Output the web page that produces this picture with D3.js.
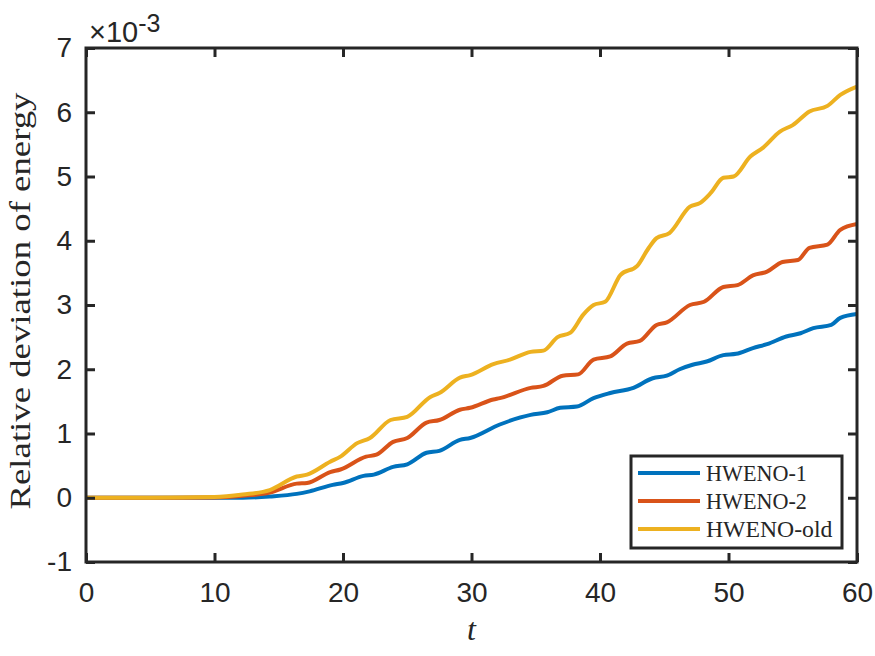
<!DOCTYPE html>
<meta charset="utf-8">
<style>
body { margin: 0; background: #fff; }
svg text { fill: #262626; }
.tick text { font-family: "Liberation Sans", Arial, sans-serif; font-size: 28px; }
.series { fill: none; stroke-width: 4px; stroke-linejoin: round; }
</style>
<body>
<script src="https://cdn.jsdelivr.net/npm/d3@7"></script>
<script>
// values, in units of 1e-3
var tH1 = [0,5,10,12.2,14.3,16.4,17.4,19.2,20,21.6,22.4,23.9,25,26.5,27.5,29.1,29.9,32.2,34.6,35.9,36.9,38.2,39.5,40.8,42.6,44.1,45.2,46.2,47.2,48.3,49.6,50.6,51.9,53,54.5,55.6,56.6,58,58.7,60];
var vH1 = [0,0,0,0,0.02,0.06,0.1,0.2,0.23,0.34,0.36,0.48,0.52,0.70,0.73,0.90,0.93,1.14,1.29,1.33,1.40,1.42,1.55,1.63,1.71,1.86,1.9,2.0,2.07,2.12,2.22,2.24,2.33,2.39,2.51,2.56,2.64,2.69,2.8,2.86];

var tH2 = [0,5,10,12.2,14.3,16.4,17.2,19,19.8,21.8,22.6,23.9,25,26.5,27.5,29.1,29.9,31.7,32.2,34.6,35.6,37.1,38.3,39.5,40.8,42.1,43.1,44.4,45.2,47,48.1,49.6,50.7,51.9,53,54.2,55.4,56.3,57.7,58.7,60];
var vH2 = [0,0,0.005,0.03,0.08,0.22,0.23,0.40,0.44,0.64,0.67,0.87,0.93,1.17,1.21,1.37,1.40,1.53,1.55,1.71,1.74,1.9,1.92,2.15,2.2,2.4,2.44,2.69,2.73,3.0,3.05,3.28,3.31,3.46,3.52,3.67,3.7,3.89,3.94,4.17,4.26];

var tOld = [0,5,10,12.2,14.3,16.4,17.2,19,19.8,21.1,22.1,23.7,25,26.8,27.5,29.1,29.9,31.7,33,34.6,35.6,36.7,37.7,38.7,39.5,40.4,41.6,42.9,43.7,44.4,45.4,47,47.8,48.6,49.6,50.4,51.7,52.7,54,55,56.3,57.7,58.7,60];
var vOld = [0,0,0.01,0.05,0.12,0.33,0.36,0.56,0.64,0.85,0.93,1.21,1.26,1.57,1.63,1.87,1.91,2.08,2.15,2.27,2.29,2.5,2.57,2.85,3.0,3.05,3.47,3.61,3.86,4.04,4.12,4.53,4.59,4.74,4.98,5.0,5.31,5.45,5.70,5.8,6.01,6.1,6.27,6.4];

var seriesNames = ["HWENO-1", "HWENO-2", "HWENO-old"];
var seriesColors = ["#0072BD", "#D95319", "#EDB120"];
var xTicks = [0,10,20,30,40,50,60];
var yTicks = [-1,0,1,2,3,4,5,6,7];

var W = 875, H = 656;
var pL = 86, pR = 857, pT = 48, pB = 562;

var svg = d3.select("body").append("svg").attr("width", W).attr("height", H);

var x = d3.scaleLinear().domain([0, 60]).range([pL, pR]);
var y = d3.scaleLinear().domain([-1, 7]).range([pB, pT]);

var series = [
  {name: seriesNames[0], color: seriesColors[0], t: tH1, v: vH1},
  {name: seriesNames[1], color: seriesColors[1], t: tH2, v: vH2},
  {name: seriesNames[2], color: seriesColors[2], t: tOld, v: vOld}
];

var line = d3.line()
  .x(function(d) { return x(d[0]); })
  .y(function(d) { return y(d[1]); })
  .curve(d3.curveMonotoneX);

svg.append("g").selectAll("path")
  .data(series)
  .enter().append("path")
  .attr("class", "series")
  .attr("stroke", function(d) { return d.color; })
  .attr("d", function(d) { return line(d.t.map(function(t, i) { return [t, d.v[i]]; })); });

// axes (ticks inward, on all four sides)
function styleAxis(g) {
  g.select(".domain").remove();
  g.selectAll(".tick line").attr("stroke", "#262626").attr("stroke-width", 3);
}
var plain = function(d) { return String(d); };
svg.append("g").attr("transform", "translate(0," + pB + ")")
  .call(d3.axisBottom(x).tickValues(xTicks).tickSize(-9).tickPadding(20).tickFormat(plain))
  .call(styleAxis);
svg.append("g").attr("transform", "translate(0," + pT + ")")
  .call(d3.axisTop(x).tickValues(xTicks).tickSize(-9).tickFormat(""))
  .call(styleAxis);
svg.append("g").attr("transform", "translate(" + pL + ",0)")
  .call(d3.axisLeft(y).tickValues(yTicks).tickSize(-9).tickPadding(14).tickFormat(plain))
  .call(styleAxis);
svg.append("g").attr("transform", "translate(" + pR + ",0)")
  .call(d3.axisRight(y).tickValues(yTicks).tickSize(-9).tickFormat(""))
  .call(styleAxis);

svg.append("rect")
  .attr("x", pL).attr("y", pT)
  .attr("width", pR - pL).attr("height", pB - pT)
  .attr("fill", "none").attr("stroke", "#262626").attr("stroke-width", 3);

// exponent
var ex = svg.append("text").attr("x", 89).attr("y", 42)
  .style("font-family", "Liberation Sans, Arial, sans-serif").style("font-size", "29px");
ex.append("tspan").text("\u00d710");
ex.append("tspan").attr("dy", -10).style("font-size", "25px").text("-3");

// axis labels
svg.append("text")
  .attr("transform", "translate(30," + ((pT + pB) / 2 - 4) + ") rotate(-90)")
  .attr("text-anchor", "middle")
  .attr("textLength", 417).attr("lengthAdjust", "spacingAndGlyphs")
  .style("font-family", "Liberation Serif, serif").style("font-size", "30px")
  .text("Relative deviation of energy");

svg.append("text")
  .attr("x", (pL + pR) / 2).attr("y", 640)
  .attr("text-anchor", "middle")
  .style("font-family", "Liberation Serif, serif").style("font-size", "32px").style("font-style", "italic")
  .text("t");

// legend
var lg = svg.append("g");
lg.append("rect")
  .attr("x", 631).attr("y", 456).attr("width", 211).attr("height", 92)
  .attr("fill", "#fff").attr("stroke", "#262626").attr("stroke-width", 3);
var item = lg.selectAll(".item").data(series).enter().append("g")
  .attr("transform", function(d, i) { return "translate(0," + (473 + i * 28) + ")"; });
item.append("line")
  .attr("x1", 638).attr("x2", 700)
  .attr("stroke", function(d) { return d.color; }).attr("stroke-width", 4);
item.append("text")
  .attr("x", 706).attr("dy", "0.33em")
  .attr("textLength", function(d) { return d.name.length * 12.7 + 12; })
  .attr("lengthAdjust", "spacingAndGlyphs")
  .style("font-family", "Liberation Serif, serif").style("font-size", "24px")
  .text(function(d) { return d.name; });
</script>
</body>
